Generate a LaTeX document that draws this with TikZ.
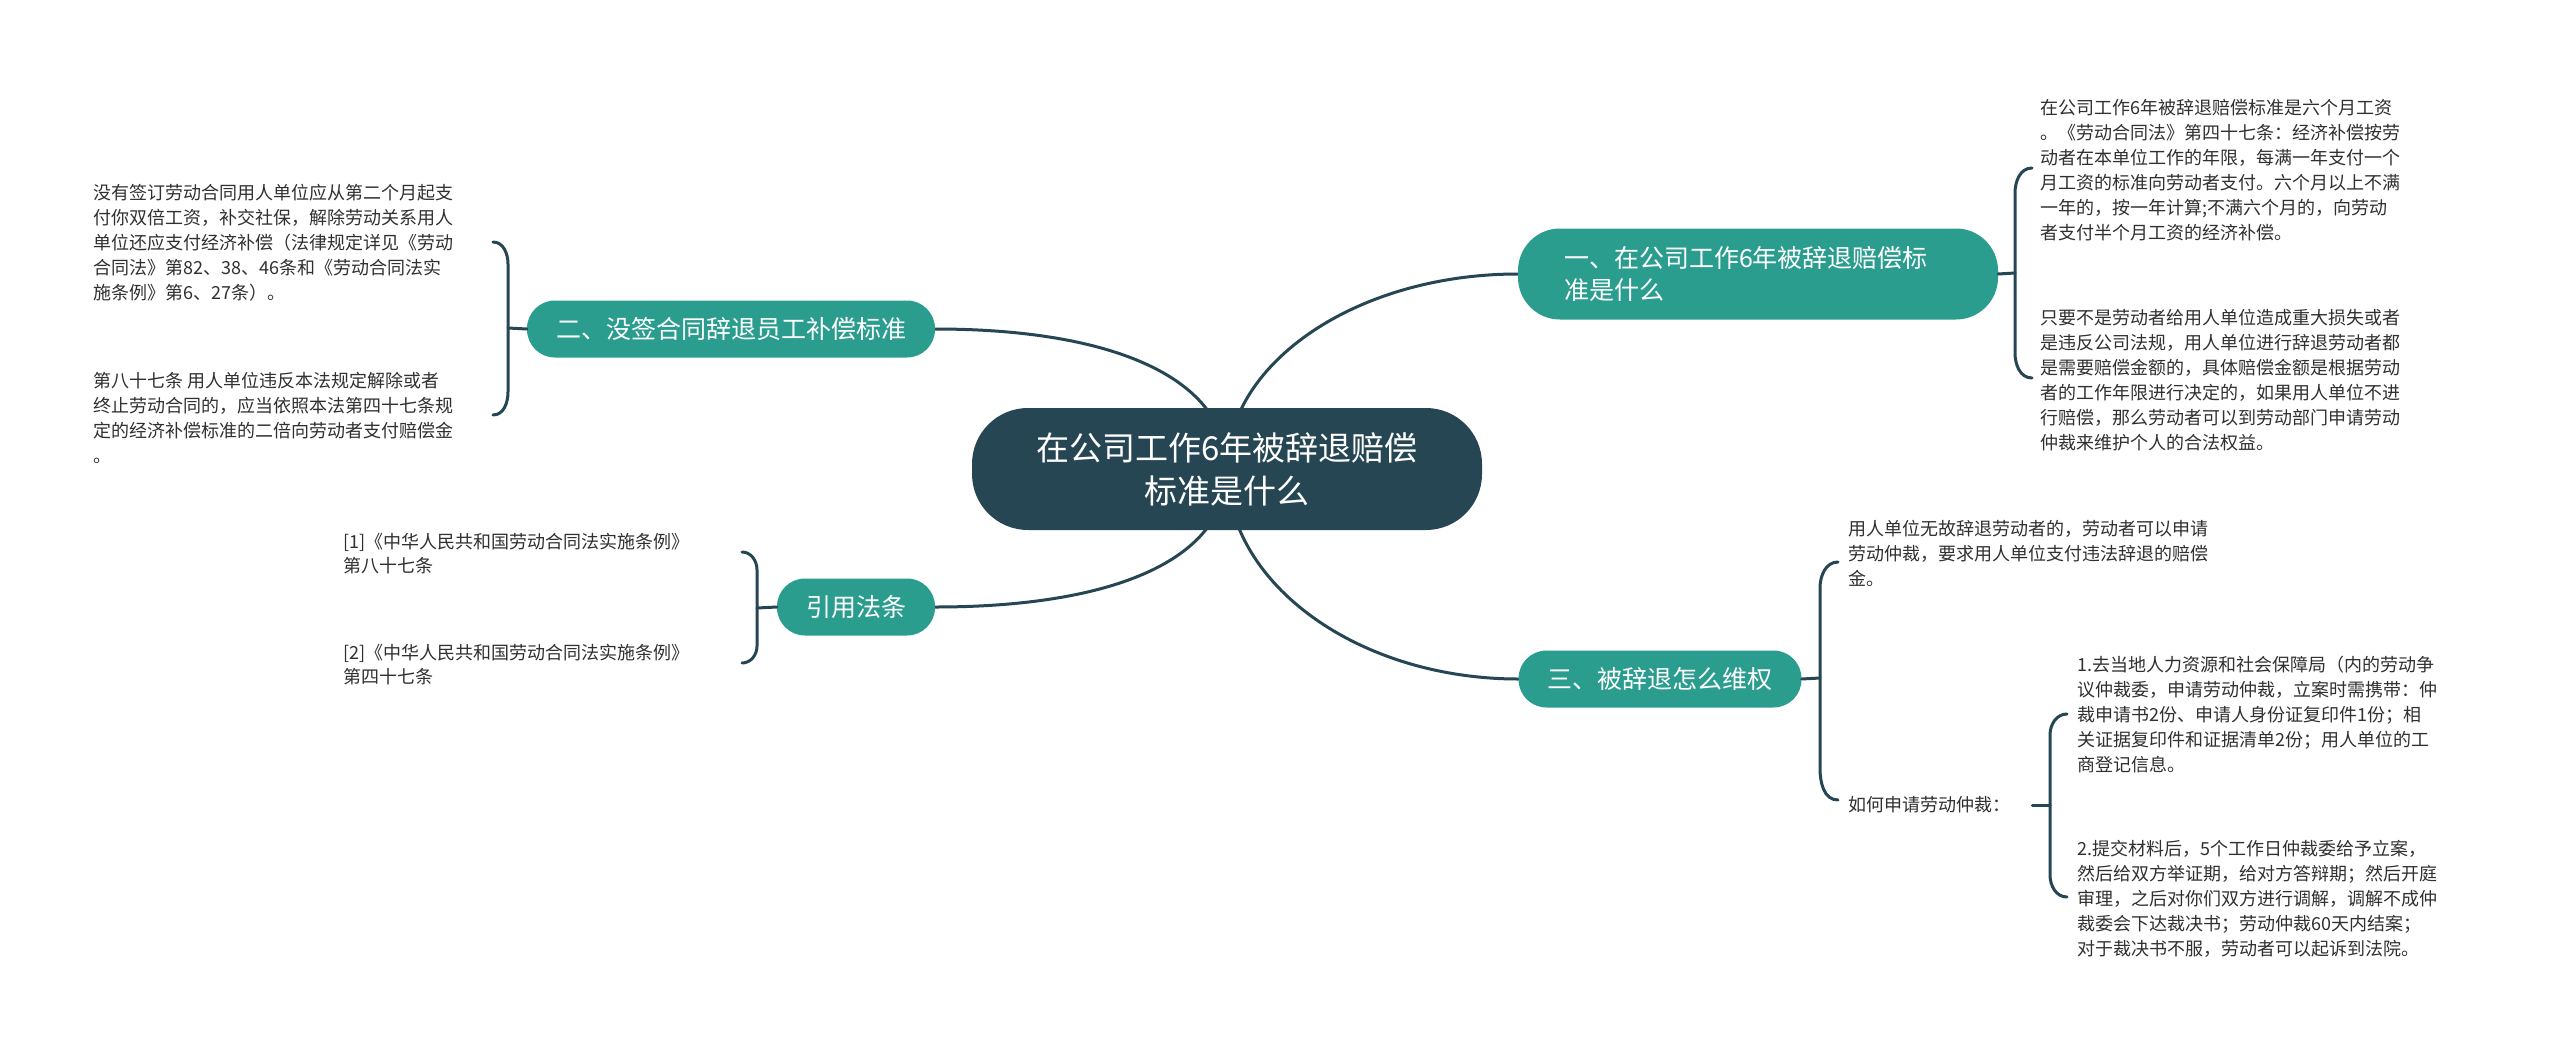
\documentclass[tikz,border=0pt]{standalone}
\usepackage{fontspec}
\setmainfont{Noto Sans CJK SC}
\usetikzlibrary{calc,backgrounds}
\definecolor{slate}{HTML}{264653}
\definecolor{mmteal}{HTML}{2A9D8F}
\definecolor{ink}{HTML}{303030}

\begin{document}
\begin{tikzpicture}[x=1pt,y=-1pt,
  root/.style={fill=slate,text=white,rounded corners=56pt,minimum width=510pt,
    minimum height=122pt,align=center,font=\fontsize{33}{43}\selectfont},
  topic/.style={fill=mmteal,text=white,rounded corners=28pt,minimum height=57pt,
    inner xsep=29pt,font=\fontsize{25}{32}\selectfont},
  leaf/.style={anchor=west,align=left,text=ink,inner sep=0pt,
    font=\fontsize{18}{25}\selectfont},
  link/.style={draw=slate,line width=3pt,line cap=round}]

\useasboundingbox (0,0) rectangle (2560,1055);

\node[root] (c) at (1227,469) {在公司工作6年被辞退赔偿\\标准是什么};

\node[topic,text width=388pt,inner xsep=46pt,minimum height=91pt,
  rounded corners=42pt,align=left] (b1) at (1758,274)
  {一、在公司工作6年被辞退赔偿标\\准是什么};
\node[topic] (b2) at (731,329) {二、没签合同辞退员工补偿标准};
\node[topic] (b3) at (1660,679) {三、被辞退怎么维权};
\node[topic] (b4) at (856,607) {引用法条};

% root to topics
\begin{scope}[on background layer]
  \fill[white] (0,0) rectangle (2560,1055);
  \draw[link] (c.center) to[out=90,in=180,out distance=107pt,in distance=160pt] (b1.west);
  \draw[link] (c.center) to[out=-90,in=180,out distance=115pt,in distance=160pt] (b3.west);
  \draw[link] (c.center) to[out=90,in=0,out distance=90pt,in distance=180pt] (b2.east);
  \draw[link] (c.center) to[out=-90,in=0,out distance=90pt,in distance=180pt] (b4.east);
\end{scope}

% leaves of b1
\node[leaf] (t1a) at (2040,170) {在公司工作6年被辞退赔偿标准是六个月工资\\
。《劳动合同法》第四十七条：经济补偿按劳\\
动者在本单位工作的年限，每满一年支付一个\\
月工资的标准向劳动者支付。六个月以上不满\\
一年的，按一年计算;不满六个月的，向劳动\\
者支付半个月工资的经济补偿。};
\node[leaf] (t1b) at (2040,380) {只要不是劳动者给用人单位造成重大损失或者\\
是违反公司法规，用人单位进行辞退劳动者都\\
是需要赔偿金额的，具体赔偿金额是根据劳动\\
者的工作年限进行决定的，如果用人单位不进\\
行赔偿，那么劳动者可以到劳动部门申请劳动\\
仲裁来维护个人的合法权益。};

\coordinate (k1) at (2015,273);
\draw[link] (b1.east) -- (k1);
\draw[link] ($(k1)+(17,-105)$) to[out=180,in=90] ($(k1)+(0,-80)$)
  -- ($(k1)+(0,80)$) to[out=-90,in=180] ($(k1)+(17,105)$);

% leaves of b2
\node[leaf] (t2a) at (93,243) {没有签订劳动合同用人单位应从第二个月起支\\
付你双倍工资，补交社保，解除劳动关系用人\\
单位还应支付经济补偿（法律规定详见《劳动\\
合同法》第82、38、46条和《劳动合同法实\\
施条例》第6、27条）。};
\node[leaf] (t2b) at (93,418) {第八十七条 用人单位违反本法规定解除或者\\
终止劳动合同的，应当依照本法第四十七条规\\
定的经济补偿标准的二倍向劳动者支付赔偿金\\
。};

\coordinate (k2) at (508,328);
\draw[link] (k2) -- (b2.west);
\draw[link] ($(k2)+(-15,-86)$) to[out=0,in=90] ($(k2)+(0,-64)$)
  -- ($(k2)+(0,64)$) to[out=-90,in=0] ($(k2)+(-15,87)$);

% leaves of b4
\node[leaf,font=\fontsize{18}{24}\selectfont] (t4a) at (343,554)
  {[1]《中华人民共和国劳动合同法实施条例》\\第八十七条};
\node[leaf,font=\fontsize{18}{24}\selectfont] (t4b) at (343,665)
  {[2]《中华人民共和国劳动合同法实施条例》\\第四十七条};

\coordinate (k4) at (757,608);
\draw[link] (k4) -- (b4.west);
\draw[link] ($(k4)+(-15,-56)$) to[out=0,in=90] ($(k4)+(0,-38)$)
  -- ($(k4)+(0,38)$) to[out=-90,in=0] ($(k4)+(-15,55)$);

% leaves of b3
\node[leaf] (t3a) at (1848,553) {用人单位无故辞退劳动者的，劳动者可以申请\\
劳动仲裁，要求用人单位支付违法辞退的赔偿\\
金。};
\node[leaf] (t3b) at (1848,805) {如何申请劳动仲裁：};

\coordinate (k3) at (1820,678);
\draw[link] (b3.east) -- (k3);
\draw[link] ($(k3)+(18,-116)$) to[out=180,in=90] ($(k3)+(0,-90)$)
  -- ($(k3)+(0,90)$) to[out=-90,in=180] ($(k3)+(18,122)$);

\node[leaf] (t3c) at (2077,715) {1.去当地人力资源和社会保障局（内的劳动争\\
议仲裁委，申请劳动仲裁，立案时需携带：仲\\
裁申请书2份、申请人身份证复印件1份；相\\
关证据复印件和证据清单2份；用人单位的工\\
商登记信息。};
\node[leaf] (t3d) at (2077,899) {2.提交材料后，5个工作日仲裁委给予立案，\\
然后给双方举证期，给对方答辩期；然后开庭\\
审理，之后对你们双方进行调解，调解不成仲\\
裁委会下达裁决书；劳动仲裁60天内结案；\\
对于裁决书不服，劳动者可以起诉到法院。};

\coordinate (k5) at (2050,805);
\draw[link] ($(t3b.east)+(22,0)$) -- (k5);
\draw[link] ($(k5)+(17,-91)$) to[out=180,in=90] ($(k5)+(0,-70)$)
  -- ($(k5)+(0,70)$) to[out=-90,in=180] ($(k5)+(17,92)$);

\end{tikzpicture}
\end{document}
